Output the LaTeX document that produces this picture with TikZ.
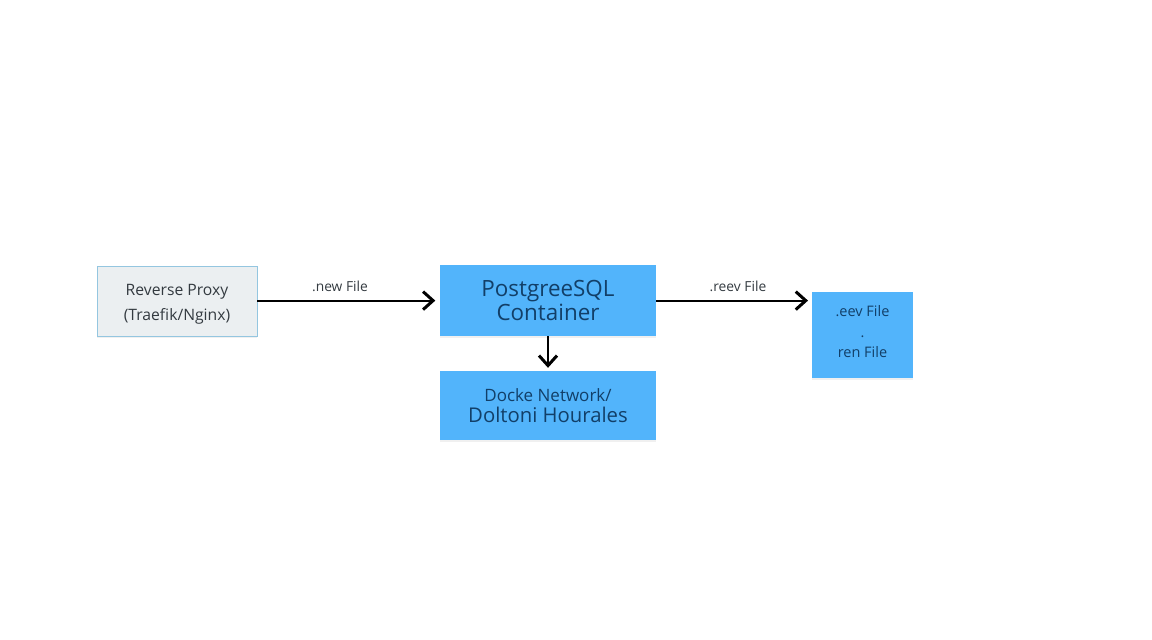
\documentclass[tikz,border=0pt]{standalone}
\usepackage{fontspec}
\setmainfont{Open Sans}
\usetikzlibrary{arrows.meta, shadows}

\tikzset{
  box/.style = {draw = none, fill = boxblue, text = boxtext, align = center, inner sep = 0pt,
    drop shadow = {opacity = .12, shadow xshift = 0pt, shadow yshift = -1.5pt}},
  proxybox/.style = {box, draw = proxyline, line width = .9pt, fill = proxyfill, text = labeltext},
  lbl/.style = {text = labeltext, inner sep = 0pt, font = \fontsize{13.8}{16}\selectfont},
  conn/.style = {line width = 1.9pt, -{Straight Barb[length = 10pt, width = 18pt, line width = 3pt]}}
}
\definecolor{boxblue}{HTML}{52B4FB}
\definecolor{boxtext}{HTML}{123F68}
\definecolor{proxyfill}{HTML}{EBEFF1}
\definecolor{proxyline}{HTML}{94C6E0}
\definecolor{labeltext}{HTML}{333A40}

\begin{document}
\begin{tikzpicture}[x = 1pt, y = -1pt]
\useasboundingbox (0,0) rectangle (1152,640);
\node[proxybox, minimum width = 160pt, minimum height = 70pt, font = \fontsize{15.7}{25}\selectfont]
  (proxy) at (177,301) {\rule{0pt}{17pt}Reverse Proxy\\(Traefik/Nginx)};
\node[box, minimum width = 216pt, minimum height = 71pt, font = \fontsize{22.4}{24}\selectfont]
  (pg) at (548,300.6) {PostgreeSQL\\Container};
\node[box, minimum width = 216pt, minimum height = 69pt]
  (net) at (548,405.5) {\fontsize{17}{20}\selectfont Docke Network/\\[5pt]\fontsize{20.3}{20}\selectfont Doltoni Hourales};
\node[box, minimum width = 101pt, minimum height = 86pt, font = \fontsize{14.5}{20.5}\selectfont]
  (files) at (862.5,335) {.eev File\\.\\ren File\rule[-7pt]{0pt}{7pt}};
\coordinate (filesin) at (808,300.6);
\node[lbl] (newlbl) at (340,286) {.new File};
\node[lbl] (reevlbl) at (738,286) {.reev File};
\draw[conn, shorten > = 4.5pt] (proxy.east |- pg) -- (pg);
\draw[conn] (pg) -- (filesin);
\draw[conn, shorten > = 3pt] (pg) -- (net);
\end{tikzpicture}
\end{document}
